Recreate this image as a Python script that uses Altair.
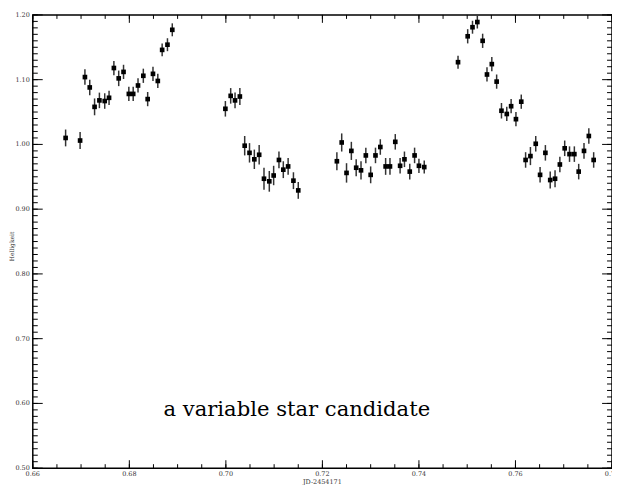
import altair as alt
import pandas as pd

# ---- data ----
phase = [
    0.6668, 0.6698, 0.6708, 0.6718, 0.6728, 0.6738, 0.6749, 0.6758, 0.6768, 0.6778,
    0.6788, 0.6799, 0.6808, 0.6818, 0.6829, 0.6838, 0.6849, 0.6859, 0.6868, 0.6879,
    0.6889,
    0.6999, 0.7010, 0.7019, 0.7029, 0.7039, 0.7049, 0.7059, 0.7069, 0.7079, 0.7090,
    0.7099, 0.7110, 0.7119, 0.7129, 0.7140, 0.7150,
    0.7230, 0.7240, 0.7250, 0.7260, 0.7270, 0.7280, 0.7290, 0.7300, 0.7310, 0.7320,
    0.7331, 0.7340, 0.7351, 0.7361, 0.7370, 0.7381, 0.7391, 0.7400, 0.7411,
    0.7481, 0.7501, 0.7511, 0.7521, 0.7532, 0.7541, 0.7551, 0.7561, 0.7571, 0.7582,
    0.7591, 0.7601, 0.7612, 0.7621, 0.7631, 0.7642, 0.7651, 0.7662, 0.7672, 0.7682,
    0.7692, 0.7702, 0.7712, 0.7722, 0.7731, 0.7742, 0.7752, 0.7762,
]
brightness = [
    1.010, 1.006, 1.104, 1.088, 1.058, 1.068, 1.067, 1.072, 1.118, 1.102,
    1.112, 1.078, 1.078, 1.091, 1.106, 1.070, 1.109, 1.098, 1.146, 1.154,
    1.177,
    1.055, 1.075, 1.068, 1.074, 0.998, 0.987, 0.977, 0.984, 0.947, 0.943,
    0.952, 0.976, 0.961, 0.966, 0.944, 0.929,
    0.974, 1.003, 0.956, 0.990, 0.964, 0.960, 0.983, 0.953, 0.983, 0.996,
    0.966, 0.966, 1.004, 0.967, 0.977, 0.958, 0.983, 0.967, 0.965,
    1.127, 1.167, 1.181, 1.189, 1.160, 1.108, 1.124, 1.097, 1.052, 1.047,
    1.059, 1.039, 1.066, 0.976, 0.982, 1.001, 0.953, 0.987, 0.945, 0.947,
    0.969, 0.994, 0.985, 0.985, 0.958, 0.990, 1.013, 0.976,
]
error = [
    0.013, 0.013, 0.012, 0.012, 0.013, 0.012, 0.012, 0.011, 0.011, 0.012,
    0.011, 0.011, 0.011, 0.011, 0.011, 0.011, 0.011, 0.011, 0.010, 0.010,
    0.010,
    0.012, 0.012, 0.012, 0.013, 0.015, 0.015, 0.015, 0.015, 0.017, 0.016,
    0.015, 0.013, 0.013, 0.013, 0.013, 0.013,
    0.014, 0.014, 0.015, 0.014, 0.013, 0.014, 0.012, 0.013, 0.012, 0.012,
    0.013, 0.013, 0.012, 0.012, 0.012, 0.012, 0.012, 0.011, 0.010,
    0.010, 0.011, 0.010, 0.010, 0.011, 0.011, 0.011, 0.011, 0.012, 0.011,
    0.011, 0.011, 0.011, 0.012, 0.014, 0.012, 0.012, 0.012, 0.013, 0.013,
    0.012, 0.012, 0.012, 0.012, 0.012, 0.012, 0.012, 0.012,
]

x_major = [0.66, 0.68, 0.70, 0.72, 0.74, 0.76, 0.78]
x_minor = [round(0.66 + 0.005 * i, 3) for i in range(25)]
y_major = [0.5, 0.6, 0.7, 0.8, 0.9, 1.0, 1.1, 1.2]
y_minor = [round(0.5 + 0.01 * i, 2) for i in range(71)]
x_labels = ["0.66", "0.68", "0.70", "0.72", "0.74", "0.76", "0.78"]
y_labels = ["0.50", "0.60", "0.70", "0.80", "0.90", "1.00", "1.10", "1.20"]

annot_text = ["a variable star candidate"]
annot_x = [0.7147]
annot_y = [0.590]

x_title = "JD-2454171"
y_title = "Helligkeit"

W, H = 584, 457
XMIN, XMAX, YMIN, YMAX = 0.66, 0.78, 0.5, 1.2
ypx = (YMAX - YMIN) / H   # data units per pixel (y)
xpx = (XMAX - XMIN) / W   # data units per pixel (x)

# error bars and vertical (x-axis) tick marks share one rule layer: x, lo, hi
err_df = pd.DataFrame({"x": phase, "lo": [b - e for b, e in zip(brightness, error)],
                       "hi": [b + e for b, e in zip(brightness, error)]})
err_df["c"] = "#333333"
err_df["w"] = 1.5

vrows = []
for v in x_minor:
    vrows.append((v, YMIN, YMIN + 4 * ypx))
    vrows.append((v, YMAX - 4 * ypx, YMAX))
for v in x_major:
    vrows.append((v, YMIN, YMIN + 8 * ypx))
    vrows.append((v, YMAX - 8 * ypx, YMAX))
vt_df = pd.DataFrame(vrows, columns=["x", "lo", "hi"])
vt_df["c"] = "#000000"
vt_df["w"] = 1.0
vrule_df = pd.concat([err_df, vt_df], ignore_index=True)

# horizontal (y-axis) tick marks: y, x1, x2
hrows = []
for v in y_minor:
    hrows.append((v, XMIN, XMIN + 5 * xpx))
    hrows.append((v, XMAX - 5 * xpx, XMAX))
for v in y_major:
    hrows.append((v, XMIN, XMIN + 10 * xpx))
    hrows.append((v, XMAX - 10 * xpx, XMAX))
ht_df = pd.DataFrame(hrows, columns=["y", "x1", "x2"])

pts_df = pd.DataFrame({"x": phase, "y": brightness})
ann = pd.DataFrame({"x": annot_x, "y": annot_y, "t": annot_text})
xl_df = pd.DataFrame({"v": x_major, "t": x_labels})
yl_df = pd.DataFrame({"v": y_major, "t": y_labels})
xt_df = pd.DataFrame({"t": [x_title]})
yt_df = pd.DataFrame({"t": [y_title]})

xs = alt.Scale(domain=[XMIN, XMAX], nice=False, zero=False)
ys = alt.Scale(domain=[YMIN, YMAX], nice=False, zero=False)

FONT = "DejaVu Serif"
LBL = "#333"

vrules = alt.Chart(vrule_df).mark_rule().encode(
    x=alt.X("x:Q", scale=xs, axis=None),
    y=alt.Y("lo:Q", scale=ys, axis=None),
    y2="hi:Q",
    color=alt.Color("c:N", scale=None, legend=None),
    strokeWidth=alt.StrokeWidth("w:Q", scale=None, legend=None),
)

hrules = alt.Chart(ht_df).mark_rule(color="black", strokeWidth=1).encode(
    y=alt.Y("y:Q", scale=ys, axis=None),
    x=alt.X("x1:Q", scale=xs, axis=None),
    x2="x2:Q",
)

points = alt.Chart(pts_df).mark_point(
    shape="square", filled=True, size=22, color="black", opacity=1
).encode(
    x=alt.X("x:Q", scale=xs, axis=None),
    y=alt.Y("y:Q", scale=ys, axis=None),
)

text = alt.Chart(ann).mark_text(
    font=FONT, fontSize=21.3, color="black", align="center", baseline="middle"
).encode(
    x=alt.X("x:Q", scale=xs, axis=None),
    y=alt.Y("y:Q", scale=ys, axis=None),
    text="t:N",
)

xlabels = alt.Chart(xl_df).mark_text(
    font=FONT, fontSize=6.5, color=LBL, align="center", baseline="top"
).encode(
    x=alt.X("v:Q", scale=xs, axis=None),
    y=alt.value(H + 3),
    text="t:N",
)

ylabels = alt.Chart(yl_df).mark_text(
    font=FONT, fontSize=6.5, color=LBL, align="right", baseline="middle"
).encode(
    y=alt.Y("v:Q", scale=ys, axis=None),
    x=alt.value(-3),
    text="t:N",
)

xtitle = alt.Chart(xt_df).mark_text(
    font=FONT, fontSize=6.5, color=LBL, align="center", baseline="top"
).encode(x=alt.value(W / 2), y=alt.value(H + 11), text="t:N")

ytitle = alt.Chart(yt_df).mark_text(
    font=FONT, fontSize=6, color=LBL, align="center", baseline="middle", angle=270
).encode(x=alt.value(-21), y=alt.value(H / 2 + 5), text="t:N")

chart = alt.layer(
    vrules, hrules, points, text, xlabels, ylabels, xtitle, ytitle
).properties(
    width=W, height=H, autosize="none",
    padding={"left": 25, "top": 5, "right": 0, "bottom": 15},
    background="white",
).configure_view(stroke="black", strokeWidth=1.5)

chart.save("out.html", embed_options={"renderer": "svg", "actions": False})
